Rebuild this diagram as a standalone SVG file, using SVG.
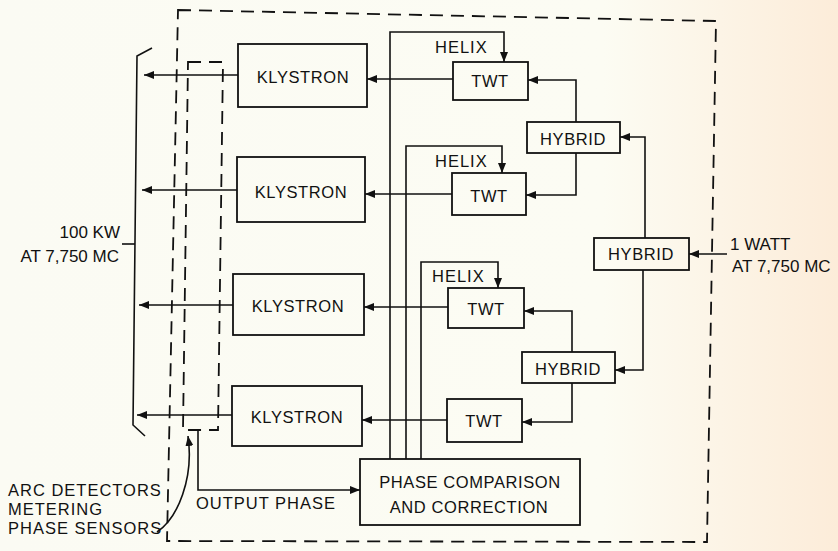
<svg xmlns="http://www.w3.org/2000/svg" width="838" height="551" viewBox="0 0 838 551">
<defs>
<linearGradient id="bg" x1="0" y1="0" x2="1" y2="0">
<stop offset="0" stop-color="#fbfbf3"/>
<stop offset="0.72" stop-color="#fcfcf3"/>
<stop offset="1" stop-color="#fcecd9"/>
</linearGradient>
<marker id="ah" viewBox="0 0 10 8" refX="10" refY="4" markerWidth="10" markerHeight="8" markerUnits="userSpaceOnUse" orient="auto">
<path d="M0,0 L10,4 L0,8 Z" fill="#111"/>
</marker>
<style>
.ln{fill:none;stroke:#111;stroke-width:1.6}
.bx{fill:none;stroke:#111;stroke-width:1.8}
.dash{fill:none;stroke:#111;stroke-width:1.8;stroke-dasharray:13 8}
.t{font-family:"Liberation Sans",Arial,sans-serif;font-size:16.5px;fill:#111;text-anchor:middle;letter-spacing:0.6px}
.s{font-family:"Liberation Sans",Arial,sans-serif;font-size:16.5px;fill:#111;letter-spacing:1px}
.big{font-family:"Liberation Sans",Arial,sans-serif;font-size:17px;fill:#111}
</style>
</defs>
<rect width="838" height="551" fill="url(#bg)"/>

<g id="enclosure">
<path class="dash" d="M178,10 L716,21 L707,542 L167,541 Z"/>
</g>
<g id="phase-sensors">
<path class="dash" d="M188,62 L223,62 L218,430 L183,430 Z"/>
</g>
<g id="bracket">
<path class="ln" d="M152,48 L137,56 L133,425 L145,436"/>
<path class="ln" d="M122,244 L135,244"/>
</g>

<g id="klystron1"><rect class="bx" x="238" y="44" width="129" height="63"/><text class="t" x="303" y="83">KLYSTRON</text></g>
<g id="klystron2"><rect class="bx" x="237" y="157" width="128" height="65"/><text class="t" x="301" y="198">KLYSTRON</text></g>
<g id="klystron3"><rect class="bx" x="233" y="274" width="131" height="61"/><text class="t" x="298" y="312">KLYSTRON</text></g>
<g id="klystron4"><rect class="bx" x="232" y="386" width="130" height="60"/><text class="t" x="297" y="423">KLYSTRON</text></g>

<g id="twt1"><rect class="bx" x="453" y="62" width="75" height="38"/><text class="t" x="490" y="87">TWT</text></g>
<g id="twt2"><rect class="bx" x="452" y="173" width="74" height="42"/><text class="t" x="489" y="202">TWT</text></g>
<g id="twt3"><rect class="bx" x="448" y="288" width="76" height="40"/><text class="t" x="486" y="315">TWT</text></g>
<g id="twt4"><rect class="bx" x="447" y="399" width="75" height="43"/><text class="t" x="484" y="427">TWT</text></g>

<g id="hybrid1"><rect class="bx" x="527" y="122" width="93" height="31"/><text class="t" x="573" y="145">HYBRID</text></g>
<g id="hybrid2"><rect class="bx" x="594" y="238" width="95" height="32"/><text class="t" x="641" y="260">HYBRID</text></g>
<g id="hybrid3"><rect class="bx" x="522" y="352" width="93" height="31"/><text class="t" x="568" y="375">HYBRID</text></g>

<g id="phase-comparison"><rect class="bx" x="360" y="459" width="220" height="66"/>
<text class="t" x="470" y="488">PHASE COMPARISON</text>
<text class="t" x="469" y="513">AND CORRECTION</text></g>

<g id="connectors">
<path class="ln" marker-end="url(#ah)" d="M238,75 L144,75"/>
<path class="ln" marker-end="url(#ah)" d="M237,190 L142,190"/>
<path class="ln" marker-end="url(#ah)" d="M233,305 L139,305"/>
<path class="ln" marker-end="url(#ah)" d="M232,415 L137,415"/>

<path class="ln" marker-end="url(#ah)" d="M453,79 L367,79"/>
<path class="ln" marker-end="url(#ah)" d="M452,194 L365,194"/>
<path class="ln" marker-end="url(#ah)" d="M448,307 L364,307"/>
<path class="ln" marker-end="url(#ah)" d="M447,420 L362,420"/>

<path class="ln" marker-end="url(#ah)" d="M390,459 L390,32 L504,32 L504,62"/>
<path class="ln" marker-end="url(#ah)" d="M406,459 L406,146 L502,146 L502,173"/>
<path class="ln" marker-end="url(#ah)" d="M421,459 L421,262 L498,262 L498,288"/>

<path class="ln" marker-end="url(#ah)" d="M576,122 L576,80 L528,80"/>
<path class="ln" marker-end="url(#ah)" d="M576,153 L576,195 L526,195"/>
<path class="ln" marker-end="url(#ah)" d="M645,238 L645,137 L620,137"/>
<path class="ln" marker-end="url(#ah)" d="M643,270 L643,370 L615,370"/>
<path class="ln" marker-end="url(#ah)" d="M572,352 L572,311 L524,311"/>
<path class="ln" marker-end="url(#ah)" d="M572,383 L572,422 L522,422"/>
<path class="ln" marker-end="url(#ah)" d="M727,254 L689,254"/>

<path class="ln" marker-end="url(#ah)" d="M198,430 L198,490 L360,490"/>
<path class="ln" marker-end="url(#ah)" d="M157,532 C178,518 194,478 188,436"/>
</g>

<g id="labels">
<text class="big" x="120" y="238" text-anchor="end">100 KW</text>
<text class="big" x="119" y="262" text-anchor="end">AT 7,750 MC</text>
<text class="big" x="730" y="250">1 WATT</text>
<text class="big" x="732" y="272">AT 7,750 MC</text>
<text class="s" x="435" y="53">HELIX</text>
<text class="s" x="435" y="167">HELIX</text>
<text class="s" x="432" y="282">HELIX</text>
<text class="s" x="196" y="509">OUTPUT PHASE</text>
<text class="s" x="8" y="496">ARC DETECTORS</text>
<text class="s" x="8" y="515">METERING</text>
<text class="s" x="8" y="534">PHASE SENSORS</text>
</g>
</svg>
